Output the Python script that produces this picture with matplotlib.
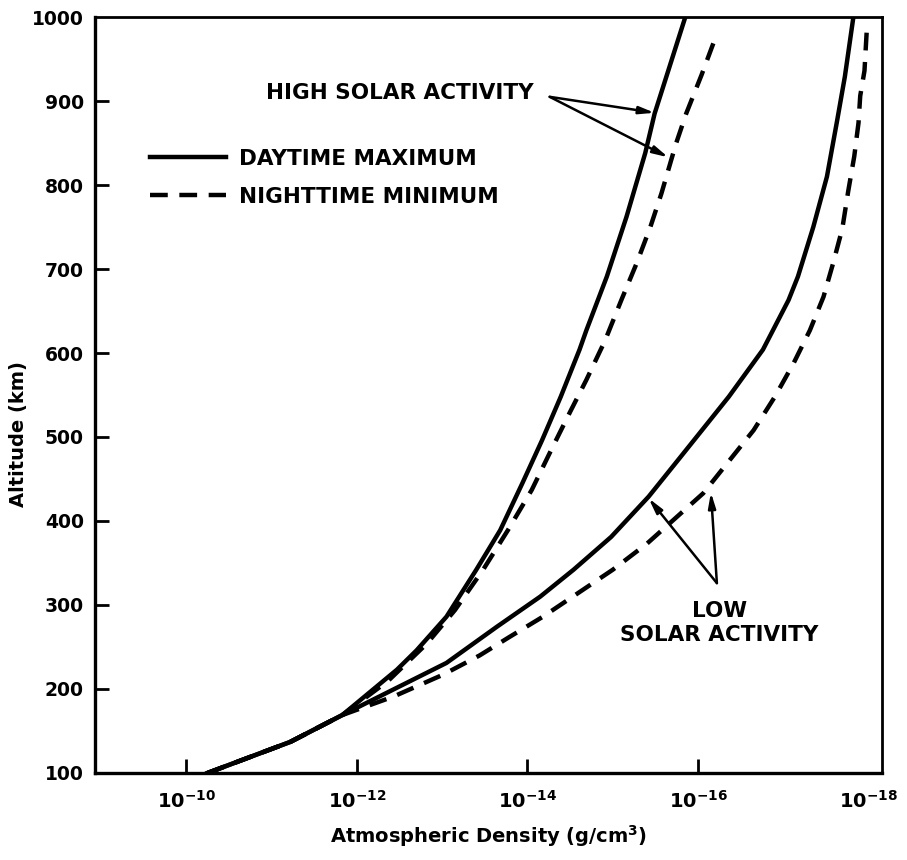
import numpy as np
import matplotlib
matplotlib.use("Agg")
import matplotlib.pyplot as plt
from matplotlib.lines import Line2D

plt.rcParams['font.family'] = 'DejaVu Sans'
plt.rcParams['font.weight'] = 'bold'
plt.rcParams['mathtext.fontset'] = 'dejavusans'

# altitude (km) and log10 of density (g/cm^3) along each curve
high_day_alt = [100, 137, 169, 223, 246, 286, 342, 389, 445, 496, 548, 604, 627, 691, 762, 838, 885, 1000]
high_day_log = [-10.25, -11.22, -11.83, -12.47, -12.70, -13.05, -13.40, -13.68, -13.94, -14.17,
                -14.39, -14.61, -14.69, -14.93, -15.16, -15.38, -15.49, -15.85]

high_night_alt = [100, 137, 169, 210, 254, 294, 342, 389, 437, 485, 530, 568, 615, 663, 707, 750,
                  790, 849, 885, 931, 980]
high_night_log = [-10.25, -11.22, -11.83, -12.37, -12.82, -13.15, -13.48, -13.77, -14.05, -14.28,
                  -14.50, -14.69, -14.91, -15.10, -15.28, -15.44, -15.57, -15.74, -15.86, -16.04,
                  -16.22]

low_day_alt = [100, 137, 169, 231, 274, 310, 342, 381, 429, 477, 548, 604, 663, 691, 750, 810, 877, 929, 1000]
low_day_log = [-10.25, -11.22, -11.83, -13.05, -13.64, -14.15, -14.54, -14.98, -15.42, -15.80,
               -16.36, -16.76, -17.06, -17.17, -17.35, -17.51, -17.63, -17.72, -17.82]

low_night_alt = [100, 137, 169, 191, 217, 240, 262, 286, 314, 342, 373, 433, 475, 508, 548, 588,
                 627, 667, 706, 748, 793, 834, 874, 906, 936, 990]
low_night_log = [-10.25, -11.22, -11.83, -12.43, -13.01, -13.44, -13.79, -14.18, -14.59, -15.00,
                 -15.40, -16.06, -16.39, -16.65, -16.90, -17.12, -17.31, -17.47, -17.58, -17.69,
                 -17.76, -17.83, -17.88, -17.90, -17.95, -17.98]

xtick_exp = [-10, -12, -14, -16, -18]
ytick_vals = [100, 200, 300, 400, 500, 600, 700, 800, 900, 1000]

fig = plt.figure(figsize=(9.07, 8.60), dpi=100)
ax = fig.add_axes([0.1047, 0.1012, 0.8677, 0.879])

lw = 3.2
dash = (4, 2.6)
ax.plot(10.0 ** np.array(high_day_log), high_day_alt, color='black', lw=lw, solid_joinstyle='round')
ax.plot(10.0 ** np.array(high_night_log), high_night_alt, color='black', lw=lw, dashes=dash)
ax.plot(10.0 ** np.array(low_day_log), low_day_alt, color='black', lw=lw, solid_joinstyle='round')
ax.plot(10.0 ** np.array(low_night_log), low_night_alt, color='black', lw=lw, dashes=dash)

ax.set_xscale('log')
ax.set_xlim(10 ** -8.93, 10 ** -18.155)
ax.set_ylim(100, 1000)

ax.set_xticks([10.0 ** e for e in xtick_exp])
ax.set_xticklabels([r'$\mathbf{10^{%d}}$' % e for e in xtick_exp], fontsize=14)
ax.xaxis.set_minor_locator(matplotlib.ticker.NullLocator())
ax.set_yticks(ytick_vals)
ax.set_yticklabels([str(v) for v in ytick_vals], fontsize=13.5, fontweight='bold')
ax.tick_params(axis='both', direction='in', length=10, width=2, pad=8)
ax.tick_params(axis='x', pad=12)
# no tick marks at the corners
ax.xaxis.get_major_ticks()[-1].tick1line.set_visible(False)
ax.yaxis.get_major_ticks()[0].tick1line.set_visible(False)
ax.yaxis.get_major_ticks()[-1].tick1line.set_visible(False)

for side in ['left', 'bottom']:
    ax.spines[side].set_linewidth(2.4)
for side in ['top', 'right']:
    ax.spines[side].set_linewidth(2.0)

ax.set_xlabel(r'Atmospheric Density (g/cm$^\mathbf{3}$)', fontsize=14, fontweight='bold', labelpad=8)
ax.set_ylabel('Altitude (km)', fontsize=14, fontweight='bold')
ax.yaxis.set_label_coords(-0.085, 0.448)

handles = [Line2D([], [], color='black', lw=lw),
           Line2D([], [], color='black', lw=lw, dashes=dash)]
ax.legend(handles, ['DAYTIME MAXIMUM', 'NIGHTTIME MINIMUM'], loc='upper left',
          bbox_to_anchor=(0.07, 0.826), frameon=False, borderpad=0, borderaxespad=0,
          handlelength=3.55, handletextpad=0.6, labelspacing=0.84,
          prop={'size': 15.5, 'weight': 'bold'})

arrow = dict(arrowstyle='-|>,head_width=0.22,head_length=0.9', color='black', lw=1.8,
             shrinkA=0, shrinkB=0)

# high solar activity labels
ax.text(10 ** -12.50, 909, 'HIGH SOLAR ACTIVITY', fontsize=15.5, fontweight='bold',
        ha='center', va='center')
ax.annotate('', xy=(10 ** -15.49, 886), xytext=(10 ** -14.26, 905), arrowprops=arrow)
ax.annotate('', xy=(10 ** -15.65, 833), xytext=(10 ** -14.26, 905), arrowprops=arrow)

# low solar activity labels
ax.text(10 ** -16.25, 305, 'LOW\nSOLAR ACTIVITY', fontsize=15.5, fontweight='bold',
        ha='center', va='top', linespacing=1.25)
ax.annotate('', xy=(10 ** -15.42, 427), xytext=(10 ** -16.22, 326), arrowprops=arrow)
ax.annotate('', xy=(10 ** -16.15, 434), xytext=(10 ** -16.22, 326), arrowprops=arrow)

fig.savefig('out.png', dpi=100)
